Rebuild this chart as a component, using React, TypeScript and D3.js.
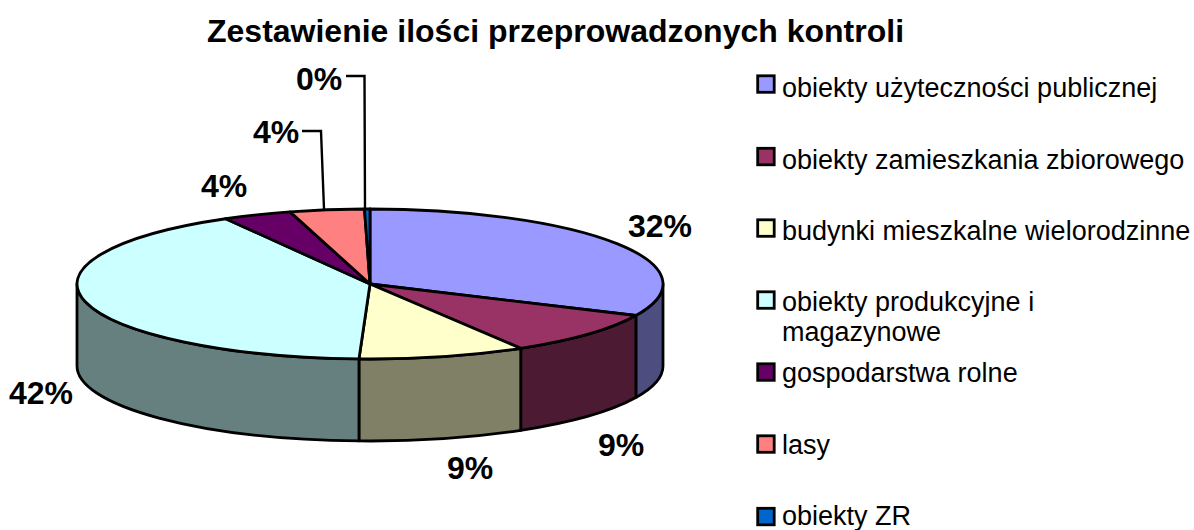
import React from "react";
import * as d3 from "d3";

const categories = [
  "obiekty użyteczności publicznej",
  "obiekty zamieszkania zbiorowego",
  "budynki mieszkalne wielorodzinne",
  "obiekty produkcyjne i magazynowe",
  "gospodarstwa rolne",
  "lasy",
  "obiekty ZR",
];
const values = [31.9, 9.5, 9.2, 41.2, 3.8, 4.1, 0.3];
const percentLabels = ["32%", "9%", "9%", "42%", "4%", "4%", "0%"];
const colors = ["#9999FF", "#993366", "#FFFFCC", "#CCFFFF", "#660066", "#FF8080", "#0066CC"];
const sideColors = ["#4D4D80", "#4D1A33", "#808066", "#668080", "#330033", "#804040", "#003366"];
const title = "Zestawienie ilości przeprowadzonych kontroli";

const cx = 370, cy = 284, rx = 293, ry = 75, depth = 82;
const FONT = "'Liberation Sans', Arial, sans-serif";
const INK = "#000";

const pt = (a: number, dy = 0): [number, number] => [cx + rx * Math.sin(a), cy - ry * Math.cos(a) + dy];
const f = (p: [number, number]) => `${p[0].toFixed(2)},${p[1].toFixed(2)}`;

const labelPos: { x: number; y: number }[] = [
  { x: 660, y: 237 },
  { x: 621, y: 456 },
  { x: 470, y: 479 },
  { x: 41, y: 404 },
  { x: 224, y: 197 },
  { x: 276, y: 143 },
  { x: 319, y: 90 },
];
const legendText = [97, 169, 240, 311, 382, 454, 525];
const legendSwatch = [84, 156.5, 228, 300, 372, 444, 516.5];

export default function App() {
  const pie = d3.pie<number>().sort(null).startAngle(0).endAngle(2 * Math.PI);
  const arcs = pie(values);

  return (
    <svg width={1194} height={530} style={{ position: "absolute", left: 0, top: 0, background: "#fff" }} fontFamily={FONT}>
      <text x={555.5} y={42} textAnchor="middle" fontSize={32} fontWeight="bold" fill={INK}>{title}</text>

      {arcs.map((d, i) => {
        const a0 = Math.max(d.startAngle, Math.PI / 2);
        const a1 = Math.min(d.endAngle, (3 * Math.PI) / 2);
        if (a1 <= a0) return null;
        return (
          <path
            key={"side" + i}
            d={`M${f(pt(a0))}A${rx},${ry} 0 0 1 ${f(pt(a1))}L${f(pt(a1, depth))}A${rx},${ry} 0 0 0 ${f(pt(a0, depth))}Z`}
            fill={sideColors[i]}
            stroke={INK}
            strokeWidth={2.8}
            strokeLinejoin="round"
          />
        );
      })}
      {arcs.map((d, i) => {
        const large = d.endAngle - d.startAngle > Math.PI ? 1 : 0;
        return (
          <path
            key={"top" + i}
            d={`M${cx},${cy}L${f(pt(d.startAngle))}A${rx},${ry} 0 ${large} 1 ${f(pt(d.endAngle))}Z`}
            fill={colors[i]}
            stroke={INK}
            strokeWidth={2.8}
            strokeLinejoin="round"
          />
        );
      })}

      <polyline points="302,131 321,131 324,209" fill="none" stroke={INK} strokeWidth={2.4} />
      <polyline points="346,76 364.5,76 365,209" fill="none" stroke={INK} strokeWidth={2.4} />

      {percentLabels.map((t, i) => (
        <text key={"lab" + i} x={labelPos[i].x} y={labelPos[i].y} textAnchor="middle" fontSize={32} fontWeight="bold" fill={INK}>
          {t}
        </text>
      ))}

      {categories.map((c, i) => {
        const wrapped = c === "obiekty produkcyjne i magazynowe";
        return (
          <g key={"leg" + i}>
            <rect x={757.7} y={legendSwatch[i] - 8.2} width={16.5} height={16.5} fill={colors[i]} stroke={INK} strokeWidth={2.8} />
            <text fontSize={27} x={782} y={legendText[i]} fill={INK}>
              {wrapped ? (
                <>
                  <tspan x={782}>obiekty produkcyjne i</tspan>
                  <tspan x={782} dy={30}>magazynowe</tspan>
                </>
              ) : c}
            </text>
          </g>
        );
      })}
    </svg>
  );
}
